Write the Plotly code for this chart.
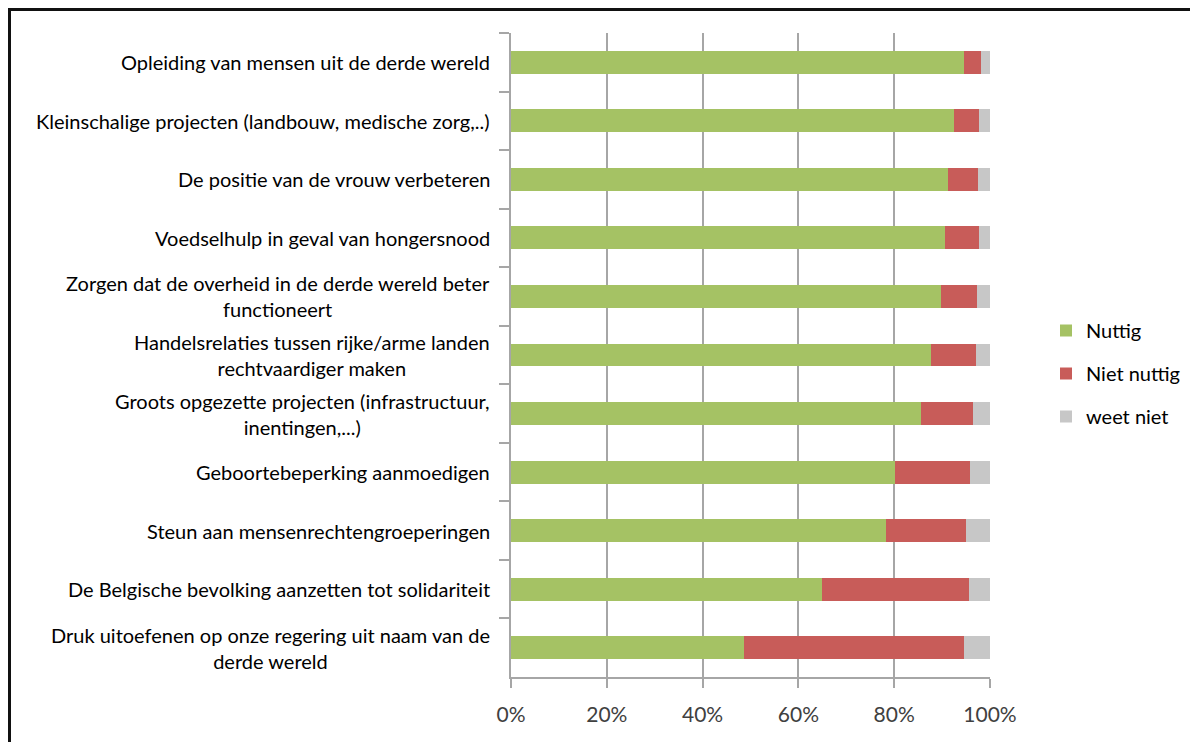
import plotly.graph_objects as go

categories = [
    "Opleiding van mensen uit de derde wereld",
    "Kleinschalige projecten (landbouw, medische zorg,..)",
    "De positie van de vrouw verbeteren",
    "Voedselhulp in geval van hongersnood",
    "Zorgen dat de overheid in de derde wereld beter<br>functioneert",
    "Handelsrelaties tussen rijke/arme landen<br>rechtvaardiger maken",
    "Groots opgezette projecten (infrastructuur,<br>inentingen,...)",
    "Geboortebeperking aanmoedigen",
    "Steun aan mensenrechtengroeperingen",
    "De Belgische bevolking aanzetten tot solidariteit",
    "Druk uitoefenen op onze regering uit naam van de<br>derde wereld",
]
nuttig = [94.5, 92.5, 91.2, 90.7, 89.8, 87.7, 85.5, 80.1, 78.2, 64.9, 48.6]
niet_nuttig = [3.6, 5.3, 6.3, 7.1, 7.4, 9.3, 10.9, 15.7, 16.8, 30.7, 45.9]
weet_niet = [1.9, 2.2, 2.5, 2.2, 2.8, 3.0, 3.6, 4.2, 5.0, 4.4, 5.5]
x_ticks = [0, 20, 40, 60, 80, 100]
x_tick_labels = ["0%", "20%", "40%", "60%", "80%", "100%"]

series = [
    ("Nuttig", nuttig, "#A5C264"),
    ("Niet nuttig", niet_nuttig, "#C85C59"),
    ("weet niet", weet_niet, "#C7C7C7"),
]

FONT = "Lato"
W, H = 1190, 734          # page has an 8px body margin
L, T = 503, 25
pw, ph = 479, 644
R, B = W - L - pw, H - T - ph

def px(xf):   # figure x pixel -> paper
    return (xf - L) / pw

def py(yf):   # figure y pixel (from top) -> paper
    return (T + ph - yf) / ph

fig = go.Figure()
for i, (name, vals, col) in enumerate(series):
    fig.add_trace(go.Bar(
        y=categories, x=vals, name=name, orientation="h",
        marker=dict(color=col, line=dict(width=0)),
        legendgroup=f"g{i}",
    ))

for c in categories:
    fig.add_annotation(
        x=px(L - 19), xref="paper", y=c, yref="y",
        text=c, showarrow=False, xanchor="right", yanchor="middle",
        align="center", font=dict(family=FONT, size=20, color="#000000"),
    )

# outer frame (left and top edges visible)
fig.add_shape(
    type="rect", xref="paper", yref="paper",
    x0=px(1.5), x1=px(W + 30),
    y0=py(H + 30), y1=py(1.5),
    line=dict(color="#111111", width=3), fillcolor="rgba(0,0,0,0)", layer="above",
)

fig.update_layout(
    width=W, height=H,
    margin=dict(l=L, r=R, t=T, b=B, autoexpand=False),
    barmode="stack", bargap=0.61,
    plot_bgcolor="white", paper_bgcolor="white",
    font=dict(family=FONT, color="#000000"),
    showlegend=True,
    legend=dict(
        x=px(1038), y=py(303), xanchor="left", yanchor="top",
        traceorder="grouped", tracegroupgap=14,
        font=dict(family=FONT, size=20, color="#000000"),
        itemwidth=30, bgcolor="rgba(0,0,0,0)",
    ),
    xaxis=dict(
        range=[0, 100], tickvals=x_ticks, ticktext=x_tick_labels,
        showgrid=True, gridcolor="#A6A6A6", gridwidth=1.5,
        showline=True, linecolor="#A6A6A6", linewidth=1.5,
        ticks="outside", ticklen=9, tickcolor="#A6A6A6", tickwidth=1.5,
        ticklabelstandoff=9,
        tickfont=dict(family=FONT, size=21, color="#404040"),
        zeroline=False, fixedrange=True,
    ),
    yaxis=dict(
        categoryorder="array", categoryarray=categories, autorange="reversed",
        showticklabels=False, showgrid=False,
        showline=True, linecolor="#A6A6A6", linewidth=1.5,
        ticks="outside", ticklen=10, tickcolor="#A6A6A6", tickwidth=1.5,
        tickson="boundaries", fixedrange=True,
    ),
)

fig.write_html("out.html")
